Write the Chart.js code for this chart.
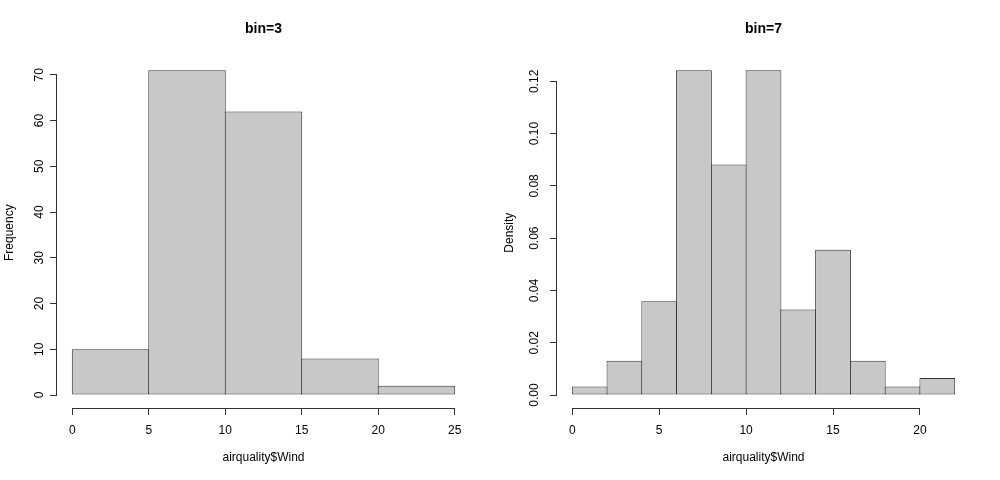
<!DOCTYPE html>
<html>
<head>
<meta charset="utf-8">
<script src="https://cdn.jsdelivr.net/npm/chart.js@4"></script>
<style>
body{margin:0;background:#fff;width:1000px;height:480px;overflow:hidden}
.panel{position:absolute;top:0;width:500px;height:480px}
</style>
</head>
<body>
<div class="panel" style="left:0"><canvas id="binThree" width="500" height="480"></canvas></div>
<div class="panel" style="left:500px"><canvas id="binSeven" width="500" height="480"></canvas></div>
<script>
// left panel: frequency, width 5 bins
var breaks3 = [0, 5, 10, 15, 20, 25];
var counts3 = [10, 71, 62, 8, 2];
var xTicks3 = [0, 5, 10, 15, 20, 25];
var yTicks3 = [0, 10, 20, 30, 40, 50, 60, 70];

// right panel: density, width 2 bins
var breaks7 = [0, 2, 4, 6, 8, 10, 12, 14, 16, 18, 20, 22];
var density7 = [0.0033, 0.0131, 0.0359, 0.1242, 0.0882, 0.1242, 0.0327, 0.0556, 0.0131, 0.0033, 0.0065];
var xTicks7 = [0, 5, 10, 15, 20];
var yTicks7 = [0, 0.02, 0.04, 0.06, 0.08, 0.10, 0.12];

Chart.defaults.font.family = '"Liberation Sans", Arial, Helvetica, sans-serif';
Chart.defaults.font.size = 12;
Chart.defaults.color = '#000';

// R draws axis lines only between the first and last tick
var rAxes = {
  id: 'rAxes',
  afterDraw: function(chart) {
    var ctx = chart.ctx, a = chart.chartArea;
    var x = chart.scales.x, y = chart.scales.y;
    var xt = x.ticks, yt = y.ticks;
    ctx.save();
    ctx.strokeStyle = '#333';
    ctx.lineWidth = 1;
    ctx.beginPath();
    var by = Math.round(a.bottom) + 0.5;
    ctx.moveTo(x.getPixelForValue(xt[0].value), by);
    ctx.lineTo(x.getPixelForValue(xt[xt.length - 1].value), by);
    var lx = Math.round(a.left) - 0.5;
    ctx.moveTo(lx, y.getPixelForValue(yt[0].value));
    ctx.lineTo(lx, y.getPixelForValue(yt[yt.length - 1].value));
    ctx.stroke();
    ctx.restore();
  }
};

function histChart(id, breaks, values, xTicks, yTicks, opts) {
  var pts = values.map(function(v, i) {
    return { x: (breaks[i] + breaks[i + 1]) / 2, y: v };
  });
  return new Chart(document.getElementById(id), {
    type: 'bar',
    data: {
      datasets: [{
        data: pts,
        backgroundColor: '#c8c8c8',
        borderColor: '#333',
        borderWidth: 1,
        borderSkipped: false,
        barPercentage: opts.barPct,
        categoryPercentage: 1
      }]
    },
    options: {
      responsive: false,
      animation: false,
      layout: { padding: { left: 0, right: 30, top: 0, bottom: 0 } },
      plugins: {
        legend: { display: false },
        tooltip: { enabled: false },
        title: {
          display: true,
          text: opts.title,
          fullSize: false,
          color: '#000',
          font: { size: 14, weight: 'bold' },
          padding: { top: 21, bottom: 19.5 }
        }
      },
      scales: {
        x: {
          type: 'linear',
          min: opts.xMin, max: opts.xMax,
          offset: false,
          afterBuildTicks: function(s) { s.ticks = xTicks.map(function(v) { return { value: v }; }); },
          afterFit: function(s) { s.height = 72; },
          ticks: { autoSkip: false, maxRotation: 0, padding: 8, color: '#000' },
          grid: { display: true, offset: false, drawOnChartArea: false, drawTicks: true, tickLength: 7, color: '#333' },
          border: { display: false },
          title: { display: true, text: 'airquality$Wind', color: '#000', font: { size: 12 }, padding: { top: 0, bottom: 14.8 } }
        },
        y: {
          min: opts.yMin, max: opts.yMax,
          afterBuildTicks: function(s) { s.ticks = yTicks.map(function(v) { return { value: v }; }); },
          afterFit: function(s) { s.width = 57; },
          ticks: {
            autoSkip: false, minRotation: 90, maxRotation: 90, crossAlign: 'center', padding: 4, color: '#000',
            callback: opts.yFmt
          },
          grid: { display: true, drawOnChartArea: false, drawTicks: true, tickLength: 7, color: '#333' },
          border: { display: false },
          title: { display: true, text: opts.yTitle, color: '#000', font: { size: 12 }, padding: { top: 2, bottom: 0 } }
        }
      }
    },
    plugins: [rAxes]
  });
}

histChart('binThree', breaks3, counts3, xTicks3, yTicks3, {
  title: 'bin=3', yTitle: 'Frequency',
  xMin: -1, xMax: 26, yMin: -2.84, yMax: 73.84,
  barPct: 1.013,
  yFmt: function(v) { return String(v); }
});

histChart('binSeven', breaks7, density7, xTicks7, yTicks7, {
  title: 'bin=7', yTitle: 'Density',
  xMin: -0.88, xMax: 22.88, yMin: -0.00497, yMax: 0.1292,
  barPct: 1.0288,
  yFmt: function(v) { return v.toFixed(2); }
});
</script>
</body>
</html>
